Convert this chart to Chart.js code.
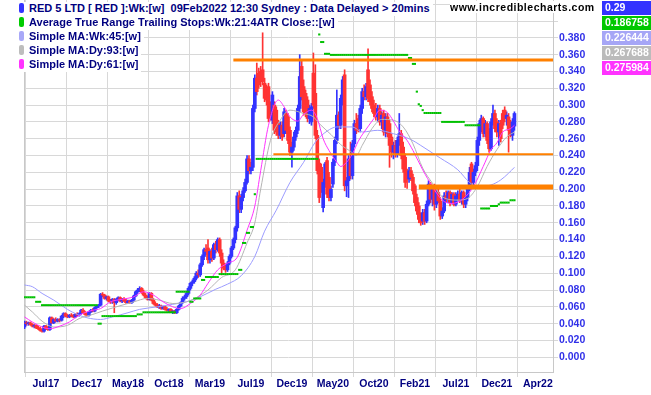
<!DOCTYPE html>
<html>
<head>
<meta charset="utf-8">
<script src="https://cdn.jsdelivr.net/npm/chart.js@4.4.1/dist/chart.umd.min.js"></script>
<style>
  html, body { margin: 0; padding: 0; background: #fff; }
  #wrap { position: relative; width: 651px; height: 395px; overflow: hidden; }
  #chart { position: absolute; left: 0; top: 0; }
  .leg { position: absolute; left: 19px; height: 14px; line-height: 14px; padding-right: 3px;
         font: bold 11px "Liberation Sans", Arial, sans-serif; color: #000080; background: #fff; white-space: pre; }
  .leg i { display: inline-block; width: 5px; height: 10px; border-radius: 2px; margin-right: 5px; vertical-align: -1px; }
  .site { position: absolute; left: 450px; top: 1px; font: bold 10.5px "Liberation Sans", Arial, sans-serif;
          letter-spacing: 0.5px; color: #000; background: #fff; }
  .val { position: absolute; left: 602px; width: 49px; height: 14px; line-height: 14px; padding-left: 3px; box-sizing: border-box;
         font: bold 10.5px "Liberation Sans", Arial, sans-serif; color: #fff; }
</style>
</head>
<body>
<div id="wrap">
  <canvas id="chart" width="651" height="395"></canvas>
  <div class="leg" style="top:2px"><i style="background:#3333ff"></i>RED 5 LTD [ RED ]:Wk:[w]  09Feb2022 12:30 Sydney : Data Delayed &gt; 20mins</div>
  <div class="leg" style="top:16px"><i style="background:#00cc00"></i>Average True Range Trailing Stops:Wk:21:4ATR Close::[w]</div>
  <div class="leg" style="top:30px"><i style="background:#a8a8f8"></i>Simple MA:Wk:45:[w]</div>
  <div class="leg" style="top:44px"><i style="background:#bdbdbd"></i>Simple MA:Dy:93:[w]</div>
  <div class="leg" style="top:58px"><i style="background:#ff33ff"></i>Simple MA:Dy:61:[w]</div>
  <div class="site">www.incrediblecharts.com</div>
  <div class="val" style="top:1px;background:#3333ff">0.29</div>
  <div class="val" style="top:16px;background:#00c800">0.186758</div>
  <div class="val" style="top:31px;background:#a6a6f6">0.226444</div>
  <div class="val" style="top:46px;background:#bbbbbb">0.267688</div>
  <div class="val" style="top:61px;background:#ff33ff">0.275984</div>
</div>
<script>
// weekly bars, index 0 = first week shown (spring 2017), 251 = week of 09 Feb 2022
const weekTicks = [11, 32, 53, 74, 95, 116, 137, 158, 179, 200, 221, 242, 263];
const weekTickLabels = ['Jul17', 'Dec17', 'May18', 'Oct18', 'Mar19', 'Jul19', 'Dec19',
  'May20', 'Oct20', 'Feb21', 'Jul21', 'Dec21', 'Apr22'];
const priceTicks = [0, 0.02, 0.04, 0.06, 0.08, 0.1, 0.12, 0.14, 0.16, 0.18, 0.2, 0.22,
  0.24, 0.26, 0.28, 0.3, 0.32, 0.34, 0.36, 0.38, 0.4, 0.42];

// [open, high, low, close] per week
const ohlc = [
  [.036,.043,.034,.042],[.041,.043,.038,.040],[.040,.042,.038,.041],[.041,.042,.038,.039],[.039,.040,.036,.037], // 0
  [.037,.039,.035,.038],[.038,.039,.034,.035],[.035,.037,.033,.034],[.034,.036,.031,.032],[.032,.034,.030,.031], // 5
  [.031,.038,.030,.037],[.037,.038,.033,.034],[.034,.036,.032,.033],[.033,.048,.032,.047],[.047,.048,.040,.041], // 10
  [.041,.046,.040,.045],[.045,.047,.042,.043],[.043,.046,.042,.045],[.045,.046,.042,.044],[.044,.050,.043,.049], // 15
  [.049,.053,.047,.052],[.052,.053,.048,.049],[.049,.051,.047,.048],[.048,.051,.047,.050],[.050,.052,.048,.049], // 20
  [.049,.051,.047,.048],[.048,.052,.047,.051],[.051,.053,.049,.050],[.050,.053,.049,.052],[.052,.057,.051,.056], // 25
  [.056,.058,.052,.053],[.053,.055,.050,.051],[.051,.053,.049,.050],[.050,.055,.049,.054],[.054,.057,.053,.056], // 30
  [.056,.058,.054,.055],[.055,.060,.054,.059],[.059,.062,.058,.061],[.061,.063,.059,.062],[.062,.076,.061,.075], // 35
  [.075,.077,.072,.074],[.074,.075,.069,.070],[.070,.073,.068,.072],[.072,.073,.066,.067],[.067,.069,.064,.066], // 40
  [.066,.070,.064,.069],[.069,.070,.053,.065],[.065,.070,.063,.069],[.069,.072,.067,.071],[.071,.072,.066,.067], // 45
  [.067,.070,.065,.069],[.069,.071,.066,.067],[.067,.069,.064,.065],[.065,.068,.064,.067],[.067,.068,.064,.065], // 50
  [.065,.069,.064,.068],[.068,.074,.067,.073],[.073,.079,.072,.078],[.078,.082,.076,.080],[.080,.084,.078,.082], // 55
  [.082,.083,.076,.077],[.077,.080,.073,.074],[.074,.076,.070,.071],[.071,.073,.068,.069],[.069,.077,.068,.076], // 60
  [.076,.077,.067,.068],[.068,.070,.063,.064],[.064,.066,.061,.062],[.062,.064,.059,.060],[.060,.063,.058,.061], // 65
  [.061,.062,.057,.058],[.058,.061,.057,.060],[.060,.061,.056,.057],[.057,.059,.055,.056],[.056,.058,.054,.057], // 70
  [.057,.058,.053,.054],[.054,.056,.052,.055],[.055,.056,.052,.053],[.053,.058,.052,.057],[.057,.062,.056,.061], // 75
  [.061,.066,.060,.065],[.065,.072,.064,.070],[.070,.074,.068,.072],[.072,.077,.070,.076],[.076,.084,.074,.082], // 80
  [.082,.089,.080,.088],[.088,.092,.085,.090],[.090,.096,.088,.094],[.094,.102,.092,.100],[.100,.104,.095,.098], // 85
  [.098,.112,.096,.110],[.110,.122,.108,.120],[.120,.130,.116,.128],[.128,.134,.122,.126],[.130,.140,.112,.116], // 90
  [.116,.128,.112,.126],[.126,.130,.114,.118],[.118,.136,.116,.134],[.134,.138,.124,.128],[.128,.142,.126,.140], // 95
  [.140,.142,.120,.124],[.124,.128,.098,.112],[.112,.116,.104,.106],[.106,.110,.101,.104],[.104,.114,.102,.112], // 100
  [.112,.122,.110,.120],[.120,.132,.118,.130],[.130,.142,.128,.140],[.140,.156,.136,.154],[.154,.196,.150,.192], // 105
  [.192,.198,.172,.176],[.176,.194,.172,.190],[.190,.202,.186,.198],[.198,.212,.196,.208],[.208,.240,.206,.236], // 110
  [.236,.240,.218,.222],[.222,.232,.218,.226],[.226,.300,.222,.296],[.296,.336,.292,.332],[.332,.350,.312,.316], // 115
  [.338,.344,.320,.324],[.340,.346,.322,.328],[.342,.386,.324,.328],[.326,.332,.304,.308],[.320,.324,.300,.306], // 120
  [.322,.326,.280,.284],[.300,.304,.282,.286],[.282,.316,.278,.312],[.300,.304,.266,.270],[.294,.298,.264,.268], // 125
  [.278,.282,.260,.264],[.264,.280,.260,.276],[.276,.280,.258,.262],[.266,.296,.262,.292],[.290,.294,.266,.270], // 130
  [.286,.290,.254,.258],[.270,.274,.240,.244],[.244,.256,.226,.250],[.250,.268,.246,.262],[.262,.274,.258,.270], // 135
  [.270,.300,.266,.296],[.296,.360,.292,.334],[.346,.352,.306,.310],[.322,.330,.288,.292],[.314,.318,.286,.290], // 140
  [.306,.310,.280,.284],[.284,.300,.278,.296],[.280,.302,.276,.298],[.338,.362,.296,.300],[.314,.348,.260,.264], // 145
  [.264,.270,.218,.222],[.231,.236,.184,.190],[.226,.230,.196,.200],[.178,.212,.173,.208],[.206,.232,.202,.230], // 150
  [.234,.238,.190,.194],[.214,.220,.186,.190],[.190,.204,.186,.200],[.206,.236,.202,.232],[.232,.262,.228,.258], // 155
  [.258,.318,.254,.288],[.288,.292,.272,.276],[.276,.312,.272,.308],[.308,.334,.300,.330],[.336,.342,.198,.204], // 160
  [.204,.214,.191,.210],[.210,.240,.190,.236],[.236,.256,.212,.216],[.216,.258,.212,.254],[.254,.282,.250,.278], // 165
  [.278,.290,.266,.270],[.284,.288,.268,.272],[.272,.300,.268,.296],[.296,.320,.290,.316],[.316,.324,.306,.310], // 170
  [.310,.326,.306,.322],[.342,.367,.304,.308],[.324,.330,.300,.304],[.310,.316,.292,.296],[.300,.306,.286,.290], // 175
  [.296,.302,.282,.286],[.286,.300,.280,.296],[.296,.300,.276,.280],[.280,.292,.272,.288],[.290,.294,.264,.268], // 180
  [.268,.290,.262,.286],[.286,.290,.262,.266],[.278,.282,.226,.252],[.262,.266,.238,.244],[.244,.256,.236,.252], // 185
  [.252,.258,.238,.242],[.242,.262,.238,.258],[.258,.290,.252,.266],[.266,.270,.236,.240],[.250,.256,.220,.224], // 190
  [.238,.242,.202,.208],[.220,.224,.201,.212],[.212,.226,.208,.222],[.222,.226,.210,.214],[.214,.218,.194,.198], // 195
  [.204,.206,.180,.184],[.190,.194,.170,.174],[.180,.184,.160,.164],[.168,.172,.157,.160],[.162,.176,.158,.172], // 200
  [.172,.176,.158,.162],[.162,.186,.160,.182],[.182,.210,.180,.206],[.206,.208,.184,.188],[.188,.204,.180,.200], // 205
  [.200,.206,.175,.182],[.182,.200,.178,.196],[.196,.200,.184,.186],[.186,.190,.164,.168],[.168,.178,.165,.174], // 210
  [.174,.196,.172,.192],[.192,.198,.184,.188],[.188,.198,.184,.196],[.196,.198,.180,.184],[.184,.196,.182,.194], // 215
  [.194,.196,.180,.182],[.182,.196,.180,.192],[.192,.198,.188,.194],[.194,.200,.184,.186],[.186,.198,.182,.196], // 220
  [.196,.198,.178,.182],[.182,.192,.178,.190],[.190,.204,.186,.200],[.200,.226,.198,.220],[.230,.232,.204,.208], // 225
  [.208,.224,.202,.220],[.220,.232,.216,.228],[.228,.262,.222,.258],[.258,.282,.252,.278],[.278,.288,.268,.284], // 230
  [.284,.286,.262,.266],[.266,.282,.262,.278],[.278,.280,.254,.258],[.268,.272,.244,.248],[.248,.284,.246,.280], // 235
  [.280,.300,.276,.290],[.290,.294,.268,.272],[.280,.284,.262,.268],[.268,.282,.252,.278],[.278,.282,.256,.260], // 240
  [.290,.294,.272,.276],[.294,.298,.280,.284],[.284,.292,.276,.288],[.286,.290,.244,.270],[.270,.282,.262,.264], // 245
  [.264,.284,.258,.280],[.275,.292,.270,.290]                                                                    // 250
];

// ATR trailing stop: [first week, last week, level]
const stopRuns = [
  [0, 5, .0714], [6, 8, .066], [9, 37, .062], [38, 39, .040], [40, 57, .049], [58, 60, .051],
  [61, 77, .0535], [78, 84, .078], [85, 86, .066], [87, 90, .070], [91, 92, .092], [93, 99, .0955],
  [100, 109, .099], [110, 111, .104], [112, 113, .136], [114, 115, .148], [116, 117, .155], [118, 118, .194],
  [119, 150, .236], [151, 151, .384], [152, 153, .375], [154, 156, .361], [157, 196, .3597], [197, 198, .356],
  [199, 200, .349], [201, 201, .316], [202, 202, .301], [203, 203, .299], [204, 204, .294], [205, 213, .2906],
  [214, 225, .280], [226, 233, .276], [234, 238, .177], [239, 242, .180], [243, 243, .182], [244, 248, .184],
  [249, 251, .1868]
];

// moving averages: [week, value]
const ma45 = [
  [0,.086],[4,.084],[9,.076],[15,.068],[22,.057],[27,.051],[32,.047],[39,.045],[45,.048],[53,.053],
  [59,.057],[68,.060],[76,.063],[83,.066],[90,.072],[98,.081],[104,.087],[111,.097],[118,.120],[123,.150],
  [129,.175],[136,.208],[143,.232],[149,.256],[155,.269],[160,.274],[168,.274],[173,.268],[181,.270],[189,.266],
  [198,.259],[203,.252],[209,.243],[213,.237],[222,.223],[228,.208],[232,.203],[239,.205],[244,.211],[248,.219],
  [251,.226]
];
const ma93 = [
  [0,.062],[4,.054],[9,.043],[15,.036],[22,.038],[28,.046],[35,.051],[40,.055],[47,.060],[56,.066],
  [63,.070],[69,.068],[76,.064],[83,.066],[88,.071],[94,.080],[101,.095],[108,.104],[114,.136],[118,.160],
  [121,.200],[126,.258],[131,.282],[136,.294],[143,.290],[148,.286],[151,.278],[157,.265],[162,.253],[167,.245],
  [170,.240],[173,.252],[178,.272],[183,.283],[189,.282],[194,.274],[199,.254],[204,.225],[209,.207],[214,.191],
  [222,.187],[227,.189],[232,.203],[237,.227],[242,.247],[247,.262],[251,.268]
];
const ma61 = [
  [0,.048],[4,.042],[9,.036],[13,.034],[18,.037],[23,.042],[28,.050],[32,.054],[35,.056],[39,.058],
  [44,.066],[50,.069],[56,.072],[61,.078],[66,.074],[71,.066],[76,.060],[80,.058],[85,.064],[90,.074],
  [94,.088],[99,.104],[104,.112],[109,.119],[114,.151],[118,.180],[121,.222],[125,.276],[130,.306],[133,.298],
  [136,.286],[140,.281],[143,.289],[147,.294],[150,.284],[153,.260],[156,.246],[160,.232],[162,.227],[165,.232],
  [168,.242],[171,.257],[174,.268],[179,.284],[182,.294],[186,.291],[189,.281],[192,.269],[196,.258],[199,.246],
  [204,.223],[209,.203],[214,.187],[219,.183],[225,.189],[230,.203],[235,.227],[239,.247],[242,.255],[245,.268],
  [249,.272],[251,.276]
];

// horizontal support / resistance lines: level and first week
const hLineLevels = [0.3537, 0.2415, 0.2026];
const hLineStarts = [107, 127.5, 202];

const X_MIN = -0.256, X_MAX = 270.75;
const FONT = '"Liberation Sans", Arial, sans-serif';
const UP = '#3333ff', DOWN = '#ff3333';

const wicks = ohlc.map((d, i) => ({ x: i, y: [d[2], d[1]] }));
const bodies = ohlc.map((d, i) => ({ x: i, y: [Math.min(d[0], d[3]), Math.max(d[0], d[3]) + (d[0] === d[3] ? 0.001 : 0)] }));
const candleColor = ctx => { const d = ohlc[ctx.dataIndex]; return d && d[3] >= d[0] ? UP : DOWN; };

const stopPts = [];
stopRuns.forEach(([a, b, v]) => { for (let i = a; i <= b; i++) stopPts.push({ x: i, y: v }); });

const toXY = arr => arr.map(([x, y]) => ({ x, y }));
const maLine = (data, color) => ({
  type: 'line', data: toXY(data), borderColor: color, borderWidth: 1, pointRadius: 0, pointHoverRadius: 0,
  cubicInterpolationMode: 'monotone'
});
const hLineWidths = [3, 2, 5];
const hLines = hLineLevels.map((lvl, k) => ({
  type: 'line', data: [{ x: hLineStarts[k], y: lvl }, { x: X_MAX, y: lvl }],
  borderColor: '#ff8000', borderWidth: hLineWidths[k], pointRadius: 0, pointHoverRadius: 0
}));

const frame = {
  id: 'frame',
  beforeDatasetsDraw(chart) {
    const { ctx, chartArea: a } = chart;
    ctx.save();
    ctx.strokeStyle = '#c8c8c8';
    ctx.lineWidth = 1;
    ctx.beginPath();
    ctx.moveTo(a.left + 0.5, a.top);
    ctx.lineTo(a.left + 0.5, a.bottom);
    ctx.stroke();
    ctx.restore();
  }
};

new Chart(document.getElementById('chart'), {
  type: 'bar',
  data: {
    datasets: [
      ...hLines,
      { type: 'line', data: stopPts, showLine: false, pointStyle: 'line', pointRadius: 1.1, pointHoverRadius: 0,
        pointBorderWidth: 2, pointBorderColor: '#00c000', pointBackgroundColor: '#00c000' },
      maLine(ma61, '#ff33ff'),
      maLine(ma93, '#b4b4b4'),
      maLine(ma45, '#9c9cff'),
      { type: 'bar', data: bodies, backgroundColor: candleColor, barThickness: 3, grouped: false, borderWidth: 0 },
      { type: 'bar', data: wicks, backgroundColor: candleColor, barThickness: 1, grouped: false, borderWidth: 0 }
    ]
  },
  options: {
    responsive: false,
    animation: false,
    devicePixelRatio: 1,
    layout: { autoPadding: false, padding: { left: 24, top: 0, right: 0, bottom: 0 } },
    plugins: { legend: { display: false }, tooltip: { enabled: false } },
    scales: {
      x: {
        type: 'linear', min: X_MIN, max: X_MAX, offset: false,
        afterBuildTicks: s => { s.ticks = weekTicks.map(v => ({ value: v })); },
        afterFit: s => { s.height = 23; s.paddingLeft = 0; s.paddingRight = 0; },
        ticks: {
          autoSkip: false, maxRotation: 0, padding: 1, color: '#000080',
          font: { family: FONT, size: 10.5, weight: 'bold' },
          callback: v => weekTickLabels[weekTicks.indexOf(v)]
        },
        grid: { color: '#d8d8d8', tickLength: 5 },
        border: { display: true, color: '#c8c8c8' }
      },
      y: {
        position: 'right', min: -0.0175, max: 0.425,
        afterBuildTicks: s => { s.ticks = priceTicks.map(v => ({ value: v })); },
        afterFit: s => { s.width = 98; s.paddingTop = 0; s.paddingBottom = 0; },
        ticks: {
          padding: 1, color: '#3030e8',
          font: { family: FONT, size: 10.5, weight: 'bold' },
          callback: v => v > 0.385 ? '' : v.toFixed(3)
        },
        grid: { color: '#d8d8d8', tickLength: 5 },
        border: { display: true, color: '#c8c8c8' }
      }
    }
  },
  plugins: [frame]
});
</script>
</body>
</html>
